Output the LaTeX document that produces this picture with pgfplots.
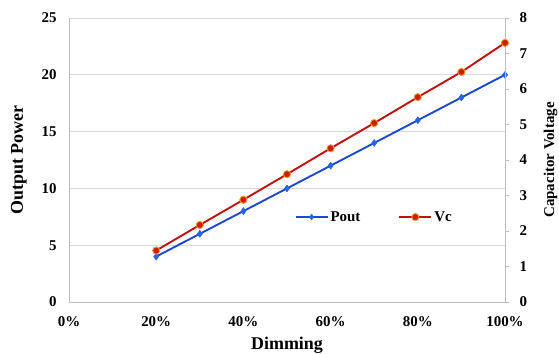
\documentclass[border=0pt]{standalone}
\usepackage{pgfplots}
\pgfplotsset{compat=1.18}
\usepackage{fontspec}
\setmainfont{Liberation Serif}
\definecolor{blueline}{RGB}{28,72,214}
\definecolor{bluemark}{RGB}{40,100,225}
\definecolor{redline}{RGB}{196,16,10}
\definecolor{redmark}{RGB}{205,30,0}
\definecolor{orangeedge}{RGB}{240,150,50}
\definecolor{gridgray}{RGB}{217,217,217}
\definecolor{axisgray}{RGB}{190,190,190}
\begin{document}
\begin{tikzpicture}
\useasboundingbox (-69bp,-52bp) rectangle (490bp,302bp);
\pgfplotsset{
  myleg/.style={legend image code/.code={\draw[mark repeat=2,mark phase=2] plot coordinates {(0cm,0cm) (16bp,0cm) (32bp,0cm)};}},
}
\begin{axis}[
  scale only axis, width=436bp, height=284bp,
  at={(0,0)}, anchor=south west,
  xmin=0, xmax=100,
  /pgf/number format/assume math mode=true,
  tick label style={font=\fontsize{15}{17}\selectfont\bfseries},
  ymin=0, ymax=25, ytick={0,5,...,25},
  xtick={0,20,40,60,80,100},
  xticklabels={0\%,20\%,40\%,60\%,80\%,100\%},
  ymajorgrids, grid style={gridgray, line width=0.8pt},
  axis x line*=bottom, axis y line*=left,
  axis line style={axisgray, line width=0.8pt},
  major tick length=0pt,
  xlabel={Dimming}, ylabel={Output Power},
  label style={font=\fontsize{18}{20}\selectfont\bfseries},
  xlabel style={yshift=-4bp},
  ylabel style={yshift=8bp},
  xticklabel style={yshift=-11bp},
  yticklabel style={xshift=-9bp},
]
\addplot[blueline, line width=1.9pt, mark=diamond*, mark size=3.4pt,
  mark options={fill=bluemark, draw=bluemark, line width=0.6pt}] coordinates {
(20,4) (30,6) (40,8) (50,10) (60,12) (70,14) (80,16) (90,18) (100,20)
};
\end{axis}
\begin{axis}[
  scale only axis, width=436bp, height=284bp,
  at={(0,0)}, anchor=south west,
  xmin=0, xmax=100,
  /pgf/number format/assume math mode=true,
  tick label style={font=\fontsize{15}{17}\selectfont\bfseries},
  ymin=0, ymax=8, ytick={0,1,...,8},
  axis y line*=right, axis x line=none,
  axis line style={axisgray, line width=0.8pt},
  ytick style={axisgray, line width=0.8pt},
  major tick length=4bp, tick align=outside,
  ylabel={Capacitor Voltage},
  ylabel style={font=\fontsize{15}{17}\selectfont\bfseries, yshift=-10bp},
  yticklabel style={xshift=7bp},
  legend columns=2, myleg,
  legend style={draw=none, fill=none, at={(0.700,0.299)}, anchor=center,
    font=\fontsize{15}{17}\selectfont\bfseries,
    /tikz/every even column/.append style={column sep=36bp}},
]
\addlegendimage{blueline, line width=1.9pt, mark=diamond*, mark size=2.8pt,
  mark options={fill=bluemark, draw=bluemark, line width=0.6pt}}
\addlegendentry{Pout}
\addplot[redline, line width=1.9pt, mark=*, mark size=3.6pt,
  mark options={fill=redmark, draw=orangeedge, line width=0.9pt}] coordinates {
(20,1.45) (30,2.17) (40,2.88) (50,3.60) (60,4.33) (70,5.04) (80,5.77) (90,6.48) (100,7.30)
};
\addlegendentry{Vc}
\end{axis}
\end{tikzpicture}
\end{document}
